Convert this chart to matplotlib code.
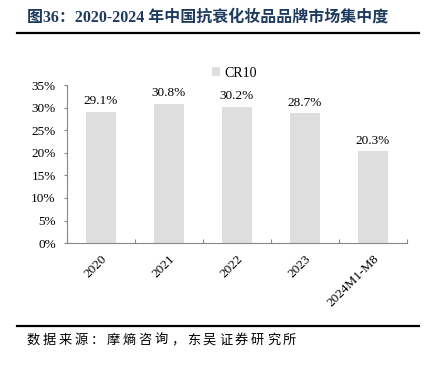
# 2020-2024 China anti-aging cosmetics brand concentration (CR10)
import numpy as np
import matplotlib.pyplot as plt
from matplotlib.ticker import PercentFormatter
from matplotlib.lines import Line2D

# %%
# data
years = ['2020', '2021', '2022', '2023', '2024M1-M8']
cr10 = [29.1, 30.8, 30.2, 28.7, 20.3]
series_name = 'CR10'
title = '图36：2020-2024 年中国抗衰化妆品品牌市场集中度'
source = '数据来源：摩熵咨询，东吴证券研究所'

# %%
serif = ['Liberation Serif', 'Noto Sans CJK SC']
cjk = ['Noto Sans CJK SC', 'DejaVu Sans']
plt.rcParams['font.family'] = serif

fig = plt.figure(figsize=(4.26, 3.65), dpi=100)
ax = fig.add_axes([0.157, 0.334, 0.798, 0.433])

x = np.arange(len(years))
bars = ax.bar(x, cr10, width=0.45, color='#dedede', label=series_name)
for xi, v in zip(x, cr10):
    ax.annotate(f'{v:.1f}%', (xi, v), xytext=(0, 3.5), textcoords='offset points',
                ha='center', va='bottom', fontsize=9.5, family=serif)

ax.set_xlim(-0.5, len(years) - 0.5)
ax.set_ylim(0, 35)
ax.set_yticks(np.arange(0, 36, 5))
ax.yaxis.set_major_formatter(PercentFormatter(decimals=0))
ax.set_xticks(np.arange(-0.5, len(years), 1))
ax.set_xticklabels([])
ax.set_xticks(x, minor=True)
ax.set_xticklabels(years, minor=True, rotation=45, ha='right', va='top',
                   rotation_mode='anchor', fontsize=9.5)
ax.tick_params(axis='x', which='major', direction='in', length=3, color='#888888')
ax.tick_params(axis='x', which='minor', length=0, pad=7)
ax.tick_params(axis='y', direction='out', length=2, color='#888888', labelsize=9.5, pad=6)
for s in ['top', 'right']:
    ax.spines[s].set_visible(False)
for s in ['left', 'bottom']:
    ax.spines[s].set_color('#888888')
    ax.spines[s].set_linewidth(0.8)

ax.legend(loc='upper left', bbox_to_anchor=(0.498, 0.817), bbox_transform=fig.transFigure,
          frameon=False, fontsize=10, handlelength=0.6, handleheight=0.6,
          handletextpad=0.25, borderaxespad=0, borderpad=0)

# title, rules and source
fig.text(0.063, 0.953, title, fontsize=11.5, fontweight='bold', color='#1f3a5f',
         family=serif, va='center')
fig.add_artist(Line2D([0.04, 0.984], [0.909, 0.909], color='black', lw=1.6,
                      transform=fig.transFigure))
fig.add_artist(Line2D([0.04, 0.984], [0.107, 0.107], color='black', lw=1.6,
                      transform=fig.transFigure))
# source line is letter-spaced in the original
step = 16 / 426
for i, ch in enumerate(source):
    fig.text(0.063 + i * step, 0.068, ch, fontsize=9.5, family=cjk, va='center')

fig.savefig('out.png', dpi=100)
